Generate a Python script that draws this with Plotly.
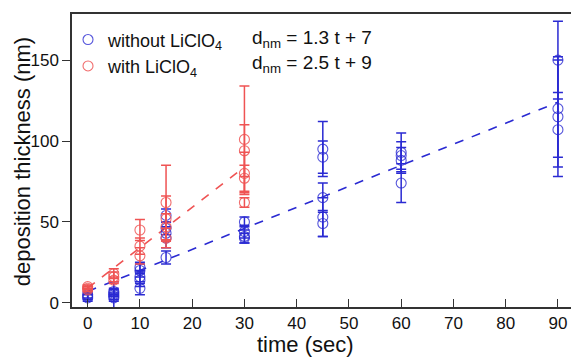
import plotly.graph_objects as go

# ---- data ----
blue_t = [0, 0, 0, 5, 5, 5, 5, 5, 10, 10, 10, 10, 10, 15, 15, 15, 15, 15,
          30, 30, 30, 30, 45, 45, 45, 45, 45, 60, 60, 60, 60, 90, 90, 90, 90]
blue_d = [5, 4, 3, 7, 6, 5, 4, 3, 22, 20, 16, 14, 9, 54, 46, 43, 40, 28,
          50, 44, 41, 40, 95, 90, 65, 53, 49, 93, 91, 88, 74, 150, 120, 115, 107]
blue_err = [2, 2, 2, 2, 2, 8, 2, 2, 3, 4, 4, 4, 4, 4, 4, 4, 6, 4,
            3, 4, 4, 3, 17, 10, 9, 12, 8, 12, 8.5, 8, 12, 24, 30, 37, 23]

red_t = [0, 0, 0, 5, 5, 5, 10, 10, 10, 15, 15, 15, 15, 30, 30, 30, 30, 30]
red_d = [10, 9, 8, 18, 16, 14, 45, 35, 29, 62, 52, 47, 40, 101, 94, 80, 77, 62]
red_err = [1, 1, 1, 3, 3, 2, 6.5, 5, 5, 23, 14, 8, 6, 33, 16, 13, 8, 3]

blue_fit = (1.3, 7)
red_fit = (2.5, 9)
blue_fit_t = [0, 90]
red_fit_t = [0, 30]

x_ticks = [0, 10, 20, 30, 40, 50, 60, 70, 80, 90]
y_ticks = [0, 50, 100, 150]

BLUE = "#2a2ad2"
RED = "#ef5353"
FONT = "Arial"

fig = go.Figure()

fig.add_trace(go.Scatter(
    x=blue_fit_t, y=[blue_fit[0] * t + blue_fit[1] for t in blue_fit_t],
    mode="lines", line=dict(color=BLUE, width=1.6, dash="dash"),
    showlegend=False, hoverinfo="skip"))
fig.add_trace(go.Scatter(
    x=red_fit_t, y=[red_fit[0] * t + red_fit[1] for t in red_fit_t],
    mode="lines", line=dict(color=RED, width=1.6, dash="dash"),
    showlegend=False, hoverinfo="skip"))

fig.add_trace(go.Scatter(
    x=blue_t, y=blue_d, mode="markers", name="without LiClO<sub>4</sub>",
    marker=dict(symbol="circle-open", size=10, color="rgba(42,42,210,0.8)",
                line=dict(width=1.1)),
    error_y=dict(type="data", array=blue_err, color=BLUE, thickness=1.5, width=5)))
fig.add_trace(go.Scatter(
    x=red_t, y=red_d, mode="markers", name="with LiClO<sub>4</sub>",
    marker=dict(symbol="circle-open", size=10, color="rgba(239,83,83,0.85)",
                line=dict(width=1.1)),
    error_y=dict(type="data", array=red_err, color=RED, thickness=1.5, width=5)))

fig.add_annotation(x=0.357, y=0.915, xref="paper", yref="paper", xanchor="left",
                   yanchor="middle", showarrow=False,
                   text="d<sub>nm</sub> = %.1f t + %d" % blue_fit,
                   font=dict(family=FONT, size=19, color="#111"))
fig.add_annotation(x=0.357, y=0.830, xref="paper", yref="paper", xanchor="left",
                   yanchor="middle", showarrow=False,
                   text="d<sub>nm</sub> = %.1f t + %d" % red_fit,
                   font=dict(family=FONT, size=19, color="#111"))

# axis titles as annotations for exact placement
fig.add_annotation(x=0.467, y=0, xref="paper", yref="paper", xanchor="center",
                   yanchor="middle", yshift=-37, showarrow=False, text="time (sec)",
                   font=dict(family=FONT, size=22, color="#111"))
fig.add_annotation(x=0, y=0.494, xref="paper", yref="paper", xanchor="center",
                   yanchor="middle", xshift=-50, showarrow=False, textangle=-90,
                   text="deposition thickness (nm)",
                   font=dict(family=FONT, size=22, color="#111"))

axis_common = dict(showgrid=False, zeroline=False, showline=True, linecolor="#333",
                   linewidth=1.5, ticklen=8, tickwidth=1.3,
                   tickcolor="#333", automargin=False,
                   tickfont=dict(family=FONT, size=17, color="#111"))

fig.update_layout(
    width=571, height=357,
    margin=dict(l=72, r=0, t=14, b=50),
    plot_bgcolor="white", paper_bgcolor="white",
    font=dict(family=FONT, color="#111"),
    xaxis=dict(range=[-3, 92.5], tickvals=x_ticks, mirror=True, ticks="inside",
               **axis_common),
    yaxis=dict(range=[-2.6, 178.5], tickvals=y_ticks, ticks="outside", **axis_common),
    legend=dict(x=-0.008, y=0.975, xanchor="left", yanchor="top",
                bgcolor="rgba(0,0,0,0)", font=dict(family=FONT, size=18, color="#111"),
                tracegroupgap=0, itemwidth=30),
)

fig.write_html("out.html", config={"displayModeBar": False},
               post_script="document.body.style.margin='0';document.body.style.overflow='hidden';")
